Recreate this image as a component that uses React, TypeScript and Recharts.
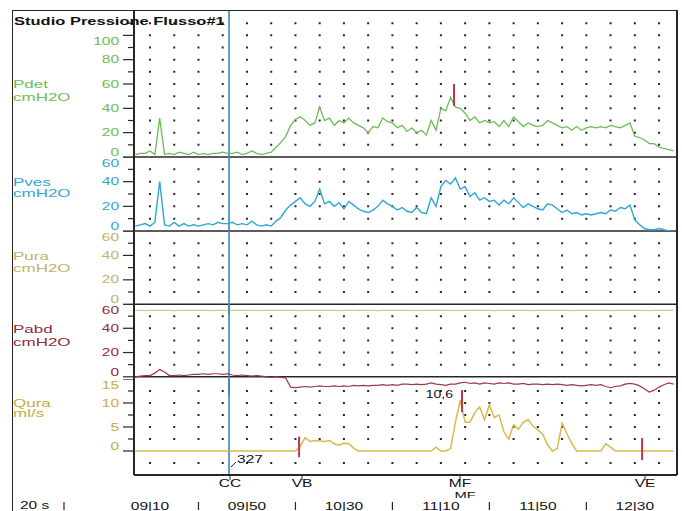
import React from 'react';
import { LineChart, Line, XAxis, YAxis, CartesianGrid, ReferenceLine } from 'recharts';

// ---------- data (seconds since start of study) ----------
const TIMES = [
  544, 546, 548, 550, 552, 554, 556, 558, 560, 562,
  564, 566, 568, 570, 572, 574, 576, 578, 580, 582,
  584, 586, 588, 590, 592, 594, 596, 598, 600, 602,
  604, 606, 608, 610, 612, 614, 616, 618, 620, 622,
  624, 626, 628, 630, 632, 634, 636, 638, 640, 642,
  644, 646, 648, 650, 652, 654, 656, 658, 660, 662,
  664, 666, 668, 670, 672, 674, 676, 678, 680, 682,
  684, 686, 688, 690, 692, 694, 696, 698, 700, 702,
  704, 706, 708, 710, 712, 714, 716, 718, 720, 722,
  724, 726, 728, 730, 732, 734, 736, 738, 740, 742,
  744, 746, 748, 750, 752, 754, 756, 758, 760, 762,
  764, 766,
];

const PDET = [
  2, 3, 3, 5, 2, 32, 2, 3, 2, 4,
  3, 2, 4, 2, 3, 2, 3, 3, 4, 3,
  3, 4, 2, 3, 5, 3, 2, 3, 4, 8,
  12, 17, 26, 31, 33, 30, 26, 28, 41, 30,
  32, 26, 30, 28, 32, 28, 26, 24, 20, 25,
  24, 32, 29, 28, 24, 26, 21, 24, 20, 22,
  18, 30, 22, 40, 38, 49, 41, 40, 36, 30,
  33, 28, 30, 28, 29, 25, 30, 25, 33, 29,
  25, 28, 26, 25, 26, 30, 28, 26, 24, 25,
  22, 25, 22, 24, 25, 24, 25, 24, 26, 25,
  24, 26, 28, 17, 16, 14, 11, 11, 8, 7,
  6, 5,
];

const PVES = [
  4, 5, 6, 4, 7, 40, 5, 4, 7, 4,
  6, 4, 5, 4, 5, 6, 5, 7, 6, 6,
  7, 5, 6, 5, 8, 5, 4, 5, 4, 8,
  11, 17, 21, 24, 27, 22, 20, 24, 34, 22,
  24, 20, 23, 18, 24, 21, 18, 16, 15, 17,
  20, 25, 22, 20, 17, 19, 16, 15, 19, 15,
  14, 27, 20, 36, 41, 38, 43, 34, 36, 28,
  31, 25, 27, 24, 25, 21, 25, 22, 27, 23,
  19, 22, 20, 18, 17, 22, 21, 18, 15, 17,
  14, 15, 13, 14, 13, 14, 15, 14, 17, 16,
  19, 18, 21, 9, 5, 2, 1, 1, 2, 1,
  0, 0,
];

const PURA = [
  -5, -5, -5.2, -5, -5, -4.8, -5, -5, -5.2, -5,
  -5, -5, -4.8, -5, -5, -5, -5.2, -5, -5, -5,
  -5, -4.8, -5, -5, -5, -5.2, -5, -5, -5, -5,
  -4.8, -5, -5, -5, -5.2, -5, -5, -5, -4.8, -5,
  -5, -5, -5.2, -5, -5, -5, -4.8, -5, -5, -5,
  -5.2, -5, -5, -5, -4.8, -5, -5, -5, -5.2, -5,
  -5, -5, -4.8, -5, -5, -5, -5.2, -5, -5, -5,
  -4.8, -5, -5, -5, -5.2, -5, -5, -5, -4.8, -5,
  -5, -5, -5.2, -5, -5, -5, -4.8, -5, -5, -5,
  -5.2, -5, -5, -5, -4.8, -5, -5, -5, -5.2, -5,
  -5, -5, -4.8, -5, -5, -5, -5.2, -5, -5, -5,
  -5, -5,
];

const PABD = [
  0, 0.5, 1, 1, 3, 6, 4, 1, 1, 1.5,
  1, 1.5, 2, 2, 2.5, 2, 2.5, 2.5, 2, 2.5,
  1.5, 1, 1.5, 1, 0.5, 1, 0.5, 0, -0.5, 0,
  -0.5, -1, -8.5, -9, -8.5, -8, -8.5, -8, -7.5, -8,
  -8, -7.5, -8, -7.5, -8, -7, -7.5, -7, -7.5, -7,
  -7, -6.5, -7, -6.5, -7, -6, -6, -6.5, -6, -6.5,
  -6, -5, -6, -6.5, -7, -6, -6, -5, -4.5, -5.5,
  -5, -6, -5, -5.5, -6, -5, -5.5, -5, -6, -6,
  -5.5, -6.5, -6, -6, -6.5, -6, -6.5, -6, -6.5, -7,
  -6.5, -7, -7.5, -7, -6.5, -7, -6.5, -8, -9, -8,
  -7.5, -6, -5.5, -6, -7.5, -10, -12.5, -11, -8.5, -6.5,
  -5, -6,
];

const QURA = [
  0, 0, 0, 0, 0, 0, 0, 0, 0, 0,
  0, 0, 0, 0, 0, 0, 0, 0, 0, 0,
  0, 0, 0, 0, 0, 0, 0, 0, 0, 0,
  0, 0, 0, 0, 1, 2.8, 2, 2.2, 2.1, 2,
  2.2, 1.5, 1.2, 1.6, 1.5, 0.6, 0, 0, 0, 0,
  0, 0, 0, 0, 0, 0, 0, 0, 0, 0,
  0, 0, 0.8, 0, 0, 0.5, 6, 10.6, 6, 6,
  8, 9.2, 6.5, 9.6, 7, 7.5, 4, 2.5, 5.5, 4.5,
  6, 6.5, 5.2, 4.4, 3.5, 1.3, 0, 0.5, 5.8, 3.6,
  1.6, 0, 0, 0, 0, 0, 0, 1.5, 0.8, 0,
  0, 0, 0, 0, 0, 0, 0, 0, 0, 0,
  0, 0,
];

// time axis labels (mm|ss)
const TIME_TICKS = [550, 570, 590, 610, 630, 650, 670, 690, 710, 730, 750];
const TIME_LABELS = ['09|10', '', '09|50', '', '10|30', '', '11|10', '', '11|50', '', '12|30'];

// event labels under the time axis
const EVENT_NAMES = ['CC', 'VB', 'MF', 'MF', 'VE'];
const EVENT_TIMES = [583, 612.7, 677.9, 680, 754.2];
const EVENT_ROWS = [0, 0, 0, 1, 0];

// marker events
const CC_TIME = 582.6;
const CC_VOLUME = '327';
const VB_TIME = 611.5;
const MF_PDET_TIME = 675.4;
const MF_QURA_TIME = 678.7;
const VE_TIME = 753;
const QMAX_LABEL = '10,6';

const PDET_TICKS = [0, 10, 20, 30, 40, 50, 60, 70, 80, 90, 100, 110];
const P60_TICKS = [0, 10, 20, 30, 40, 50, 60];
const QURA_TICKS = [0, 2.5, 5, 7.5, 10, 12.5, 15];
const PDET_ROWS = [10, 20, 30, 40, 50, 60, 70, 80, 90, 100, 110];
const P60_ROWS = [10, 20, 30, 40, 50];
const QURA_ROWS = [-2.5, 2.5, 5, 7.5, 10, 12.5];

const DATA = TIMES.map((t, i) => ({
  t,
  pdet: PDET[i],
  pves: PVES[i],
  pura: PURA[i],
  pabd: PABD[i],
  qura: QURA[i],
}));

// ---------- layout / style ----------
const W = 682;
const X_DOMAIN: [number, number] = [543.4, 767.4];
const PLOT_W = 543;
const PX_PER_S = PLOT_W / (X_DOMAIN[1] - X_DOMAIN[0]);
const PERIOD = 10 * PX_PER_S;
const FIRST_DOT = (550 - X_DOMAIN[0]) * PX_PER_S - 1;
const DOT_OFFSET = PERIOD - FIRST_DOT;
const AXIS_H = 36;
const PAD_B = 8;
const FONT = "'Liberation Sans', Arial, Helvetica, sans-serif";
const INK = '#262626';
const RED = '#c0364a';

const C_PDET = '#6cbd58';
const C_PVES = '#2ea7d6';
const C_PURA = '#c4b06a';
const C_PABD = '#8e2c40';
const C_QURA = '#c8aa3c';

function SText({ x, y, children, anchor = 'start', fill = '#111', size = 10, sx = 1.55, weight = 'normal' }: any) {
  return (
    <text
      transform={`translate(${x},${y}) scale(${sx},1)`}
      textAnchor={anchor}
      fontSize={size}
      fontFamily={FONT}
      fontWeight={weight}
      fill={fill}
    >
      {children}
    </text>
  );
}

const makeYTick = (color: string, labelEvery: number, topVal: number) => (props: any) => {
  const { x, y, payload } = props;
  const v = payload.value;
  const major = Math.abs(v / labelEvery - Math.round(v / labelEvery)) < 1e-6;
  const dy = v === 0 ? -4.5 : v === topVal ? 6.5 : 0;
  return (
    <g>
      <line x1={x - (major ? 11 : 6)} x2={x} y1={y} y2={y} stroke={INK} strokeWidth={1.2} />
      {major && (
        <SText x={x - 15} y={y + dy + 3.5} anchor="end" fill={color}>
          {String(v)}
        </SText>
      )}
    </g>
  );
};

const BottomTick = (props: any) => {
  const { x, y, payload } = props;
  const v = payload.value;
  const ei = EVENT_TIMES.indexOf(v);
  if (ei >= 0) {
    return (
      <g>
        {EVENT_ROWS[ei] === 0 && <line x1={x} x2={x} y1={y} y2={y + 5} stroke={INK} strokeWidth={1} />}
        <SText x={x} y={y + 12 + EVENT_ROWS[ei] * 10.5} anchor="middle" size={EVENT_ROWS[ei] ? 9.5 : 10}>
          {EVENT_NAMES[ei]}
        </SText>
      </g>
    );
  }
  const ti = TIME_TICKS.indexOf(v);
  const lbl = ti >= 0 ? TIME_LABELS[ti] : '';
  if (lbl) {
    return (
      <SText x={x} y={y + 34.5} anchor="middle">
        {lbl}
      </SText>
    );
  }
  return <line x1={x} x2={x} y1={y + 27} y2={y + 35} stroke={INK} strokeWidth={1.2} />;
};

function Panel({
  top, height, domain, ticks, labelEvery, topVal, rows, color, dataKey, lineColor, lineWidth,
  zeroLine = true, bottom = false, ccLabel = false, extras = [],
}: any) {
  const padB = bottom ? AXIS_H : PAD_B;
  const h = height + padB;
  return (
    <div style={{ position: 'absolute', left: 0, top, width: W, height: h }}>
      <LineChart width={W} height={h} data={DATA} margin={{ top: 0, right: 5, bottom: bottom ? 0 : PAD_B, left: 0 }}>
        <CartesianGrid
          vertical={false}
          horizontalValues={rows}
          stroke={INK}
          strokeWidth={2}
          strokeDasharray={`2 ${PERIOD - 2}`}
          strokeDashoffset={DOT_OFFSET}
        />
        {bottom ? (
          <XAxis
            dataKey="t"
            type="number"
            domain={X_DOMAIN}
            allowDataOverflow
            ticks={[...EVENT_TIMES, ...TIME_TICKS]}
            interval={0}
            tick={BottomTick}
            tickLine={false}
            tickSize={0}
            tickMargin={0}
            height={AXIS_H}
            axisLine={{ stroke: INK, strokeWidth: 2 }}
          />
        ) : (
          <XAxis dataKey="t" type="number" domain={X_DOMAIN} allowDataOverflow hide />
        )}
        <YAxis
          type="number"
          domain={domain}
          allowDataOverflow
          ticks={ticks}
          interval={0}
          width={134}
          tick={makeYTick(color, labelEvery, topVal)}
          tickLine={false}
          tickSize={0}
          tickMargin={0}
          axisLine={{ stroke: INK, strokeWidth: 2 }}
        />
        {zeroLine && <ReferenceLine y={0} stroke={INK} strokeWidth={1.6} />}
        <ReferenceLine
          x={CC_TIME}
          stroke="#3b86b6"
          strokeWidth={1.6}
          label={
            ccLabel
              ? (p: any) => {
                  const vb = p.viewBox || {};
                  const bx = vb.x;
                  const by = (vb.y || 0) + (vb.height || 0);
                  return (
                    <g>
                      <line x1={bx + 2} y1={by - 8} x2={bx + 7} y2={by - 13} stroke={INK} strokeWidth={1} />
                      <SText x={bx + 8} y={by - 12}>{CC_VOLUME}</SText>
                    </g>
                  );
                }
              : undefined
          }
        />
        <ReferenceLine x={X_DOMAIN[1]} stroke={INK} strokeWidth={2} />
        <Line
          dataKey={dataKey}
          type="linear"
          stroke={lineColor}
          strokeWidth={lineWidth}
          dot={false}
          activeDot={false}
          isAnimationActive={false}
        />
        {extras}
      </LineChart>
    </div>
  );
}

export default function App() {
  return (
    <div style={{ position: 'absolute', left: 0, top: 0, width: W, height: 511, background: '#fff', overflow: 'hidden' }}>
      <div
        style={{
          position: 'absolute', left: 12, top: 10, width: 666, height: 501,
          borderTop: `1.5px solid ${INK}`, borderLeft: `1.5px solid ${INK}`, boxSizing: 'border-box',
        }}
      />
      <Panel
        top={11} height={146} domain={[0, 120]} ticks={PDET_TICKS} labelEvery={20} topVal={100}
        rows={PDET_ROWS} color={C_PDET} dataKey="pdet" lineColor={C_PDET} lineWidth={1.3}
        extras={[
          <ReferenceLine key="mfp" segment={[{ x: MF_PDET_TIME, y: 60 }, { x: MF_PDET_TIME, y: 42 }]} stroke={RED} strokeWidth={2} />,
        ]}
      />
      <Panel
        top={157} height={74} domain={[0, 60]} ticks={P60_TICKS} labelEvery={20} topVal={60}
        rows={P60_ROWS} color={C_PVES} dataKey="pves" lineColor={C_PVES} lineWidth={1.4}
      />
      <Panel
        top={231} height={83} domain={[-8, 60]} ticks={P60_TICKS} labelEvery={20} topVal={60}
        rows={P60_ROWS} color={C_PURA} dataKey="pura" lineColor="#d6cb94" lineWidth={1.4}
      />
      <Panel
        top={304} height={91} domain={[-15, 60]} ticks={P60_TICKS} labelEvery={20} topVal={60}
        rows={P60_ROWS} color={C_PABD} dataKey="pabd" lineColor="#9a3a4e" lineWidth={1.2}
      />
      <Panel
        top={379} height={96} domain={[-5, 15]} ticks={QURA_TICKS} labelEvery={5} topVal={15}
        rows={QURA_ROWS} color={C_QURA} dataKey="qura" lineColor="#d5bb4e" lineWidth={1.5}
        zeroLine={false} bottom ccLabel
        extras={[
          <ReferenceLine key="vb" segment={[{ x: VB_TIME, y: 3 }, { x: VB_TIME, y: -1.3 }]} stroke={RED} strokeWidth={2} />,
          <ReferenceLine
            key="mfq"
            segment={[{ x: MF_QURA_TIME, y: 12.7 }, { x: MF_QURA_TIME, y: 8.1 }]}
            stroke={RED}
            strokeWidth={2}
            label={(p: any) => {
              const vb = p.viewBox || {};
              return (
                <SText x={vb.x - 9} y={vb.y + 8} anchor="end" sx={1.4}>
                  {QMAX_LABEL}
                </SText>
              );
            }}
          />,
          <ReferenceLine key="ve" segment={[{ x: VE_TIME, y: 2.7 }, { x: VE_TIME, y: -1.9 }]} stroke={RED} strokeWidth={2} />,
        ]}
      />
      <svg width={W} height={511} style={{ position: 'absolute', left: 0, top: 0, pointerEvents: 'none' }}>
        <SText x={14} y={24.5} size={11} sx={1.5} weight="bold" fill="#111">
          Studio Pressione Flusso#1
        </SText>
        <SText x={13} y={87.5} fill={C_PDET} sx={1.7}>Pdet</SText>
        <SText x={13} y={100.5} fill={C_PDET} sx={1.7}>cmH2O</SText>
        <SText x={13} y={185.5} fill={C_PVES} sx={1.7}>Pves</SText>
        <SText x={13} y={197} fill={C_PVES} sx={1.7}>cmH2O</SText>
        <SText x={13} y={259.5} fill={C_PURA} sx={1.7}>Pura</SText>
        <SText x={13} y={272} fill={C_PURA} sx={1.7}>cmH2O</SText>
        <SText x={13} y={332.5} fill={C_PABD} sx={1.7}>Pabd</SText>
        <SText x={13} y={345.5} fill={C_PABD} sx={1.7}>cmH2O</SText>
        <SText x={13} y={407} fill={C_QURA} sx={1.7}>Qura</SText>
        <SText x={13} y={417} fill={C_QURA} sx={1.7}>ml/s</SText>
        <SText x={20} y={509}>20 s</SText>
        <line x1={64} x2={64} y1={502} y2={510} stroke={INK} strokeWidth={1.2} />
      </svg>
    </div>
  );
}
